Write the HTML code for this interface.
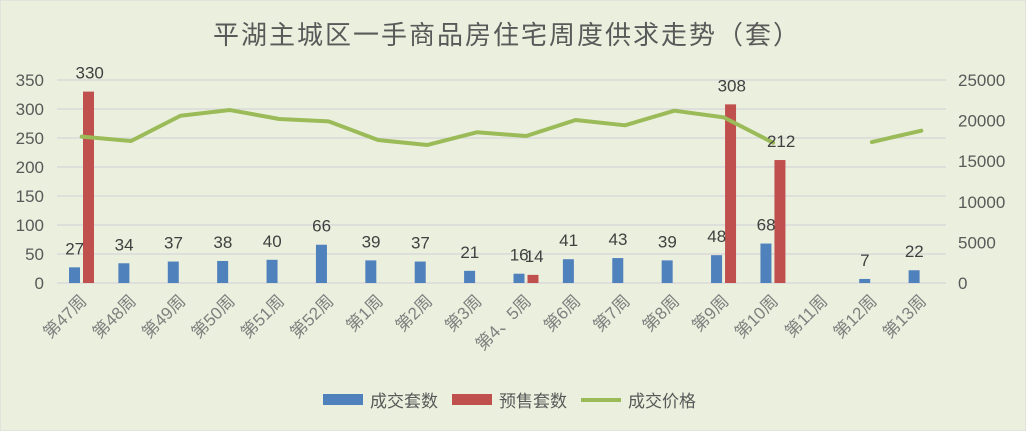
<!DOCTYPE html>
<html><head><meta charset="utf-8"><style>
body{margin:0;background:#EBF0DE;}
svg{display:block;font-family:"Liberation Sans","Noto Sans CJK SC",sans-serif;}
</style></head><body>
<svg id="c" width="1026" height="431" viewBox="0 0 1026 431">
<rect x="0" y="0" width="1026" height="431" fill="#EBF0DE" stroke="#D9D9D9"/>
<text x="507" y="44" text-anchor="middle" font-size="26" fill="#595959" letter-spacing="2">平湖主城区一手商品房住宅周度供求走势（套）</text>
<g id="grid"></g><g id="bars"></g><g id="line"></g><g id="labels"></g><g id="axes"></g>
<g>
<rect x="323" y="394" width="40" height="11" fill="#4F81BD"/>
<text x="370" y="407" font-size="17" fill="#595959">成交套数</text>
<rect x="452" y="394" width="40" height="11" fill="#C0504D"/>
<text x="499" y="407" font-size="17" fill="#595959">预售套数</text>
<line x1="581" y1="400" x2="621" y2="400" stroke="#9BBB59" stroke-width="4"/>
<text x="628" y="407" font-size="17" fill="#595959">成交价格</text>
</g>
</svg>
<script>
const categories=["第47周","第48周","第49周","第50周","第51周","第52周","第1周","第2周","第3周","第4、5周","第6周","第7周","第8周","第9周","第10周","第11周","第12周","第13周"];
const salesUnits=[27,34,37,38,40,66,39,37,21,16,41,43,39,48,68,null,7,22];
const presaleUnits=[330,null,null,null,null,null,null,null,null,14,null,null,null,308,212,null,null,null];
const avgPrice=[18020,17490,20600,21300,20200,19910,17610,17000,18560,18100,20070,19420,21220,20400,17280,null,17360,18760];
const leftTicks=[0,50,100,150,200,250,300,350];
const rightTicks=[0,5000,10000,15000,20000,25000];
const NS="http://www.w3.org/2000/svg";
const X0=57,X1=946,Y0=283,Y1=80;
const bw=(X1-X0)/categories.length;
const xC=i=>X0+bw*(i+0.5);
const yL=v=>Y0-(v/350)*(Y0-Y1);
const yR=v=>Y0-(v/25000)*(Y0-Y1);
function mk(tag,attrs,parent,txt){const e=document.createElementNS(NS,tag);for(const k in attrs)e.setAttribute(k,attrs[k]);if(txt!=null)e.textContent=txt;document.getElementById(parent).appendChild(e);return e;}
leftTicks.forEach(t=>{
 const g=mk("line",{x1:X0,x2:X1,y1:yL(t),y2:yL(t),stroke:"#D9D9D9","stroke-width":1.5},"grid");
 
 
 const l=mk("text",{x:44,y:yL(t)+6,"text-anchor":"end","font-size":17,fill:"#595959"},"axes",t);
 
 
});
rightTicks.forEach(t=>{
 const l=mk("text",{x:958,y:yR(t)+6,"font-size":17,fill:"#595959"},"axes",t);
 
 
});
categories.forEach((c,i)=>{
 const cx=xC(i);
 const t=mk("text",{x:cx+6,y:302,"text-anchor":"end","font-size":17,fill:"#7F7F7F",transform:`rotate(-45 ${cx+6} 302)`},"axes",c);
 
 
 if(salesUnits[i]!=null){
  const v=salesUnits[i];
  const r=mk("rect",{x:cx-12.7,y:yL(v),width:11,height:Y0-yL(v),fill:"#4F81BD"},"bars");
  
  
  const l=mk("text",{x:cx-7,y:yL(v)-13,"text-anchor":"middle","font-size":17,fill:"#404040"},"labels",v);
  
  
 }
 if(presaleUnits[i]!=null){
  const v=presaleUnits[i];
  const r=mk("rect",{x:cx+1.3,y:yL(v),width:11,height:Y0-yL(v),fill:"#C0504D"},"bars");
  
  
  const l=mk("text",{x:cx+8,y:yL(v)-13,"text-anchor":"middle","font-size":17,fill:"#404040"},"labels",v);
  
  
 }
});
let d="",pen=false;
avgPrice.forEach((v,i)=>{if(v==null){pen=false;return;}d+=(pen?"L":"M")+xC(i)+" "+yR(v)+" ";pen=true;});
const p=mk("path",{d:d,fill:"none",stroke:"#9BBB59","stroke-width":4,"stroke-linejoin":"round","stroke-linecap":"round"},"line");


</script>
</body></html>
